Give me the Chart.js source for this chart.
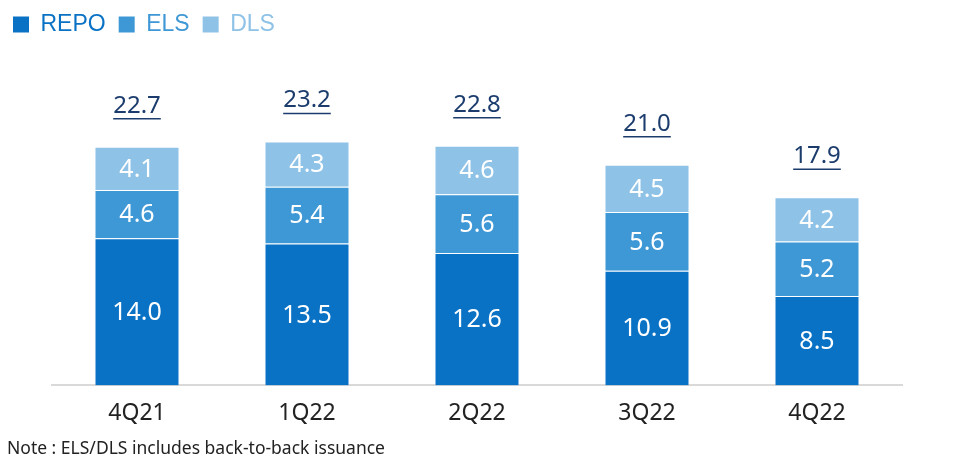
<!DOCTYPE html>
<html>
<head>
<meta charset="utf-8">
<style>
  html, body { margin: 0; padding: 0; background: #fff; }
  #wrap { width: 963px; height: 463px; position: relative; }
</style>
<script src="https://cdn.jsdelivr.net/npm/chart.js@4.4.1/dist/chart.umd.min.js"></script>
</head>
<body>
<div id="wrap"><canvas id="issuance"></canvas></div>
<script>
// Data
var quarters = ["4Q21", "1Q22", "2Q22", "3Q22", "4Q22"];
var repo = [14.0, 13.5, 12.6, 10.9, 8.5];
var els = [4.6, 5.4, 5.6, 5.6, 5.2];
var dls = [4.1, 4.3, 4.6, 4.5, 4.2];
var totals = [22.7, 23.2, 22.8, 21.0, 17.9];
var note = "Note : ELS/DLS includes back-to-back issuance";

var colors = { repo: "#0a72c5", els: "#3f98d6", dls: "#8ec2e7" };

// white numbers inside each segment
var segmentLabels = {
  id: "segmentLabels",
  afterDatasetsDraw: function (chart) {
    var ctx = chart.ctx;
    ctx.save();
    ctx.fillStyle = "#ffffff";
    ctx.font = "25px 'Noto Sans'";
    ctx.textAlign = "center";
    ctx.textBaseline = "middle";
    chart.data.datasets.forEach(function (ds, i) {
      var meta = chart.getDatasetMeta(i);
      meta.data.forEach(function (bar, j) {
        ctx.fillText(ds.data[j].toFixed(1), bar.x, (bar.y + bar.base) / 2 + 1);
      });
    });
    ctx.restore();
  }
};

// underlined totals above the stacks
var totalLabels = {
  id: "totalLabels",
  afterDatasetsDraw: function (chart) {
    var ctx = chart.ctx;
    var top = chart.getDatasetMeta(chart.data.datasets.length - 1);
    ctx.save();
    ctx.fillStyle = "#1b3c6c";
    ctx.strokeStyle = "#1b3c6c";
    ctx.lineWidth = 1.5;
    ctx.font = "24px 'Noto Sans'";
    ctx.textAlign = "center";
    ctx.textBaseline = "middle";
    top.data.forEach(function (bar, j) {
      var txt = totals[j].toFixed(1);
      var y = bar.y - 41;
      ctx.fillText(txt, bar.x, y);
      var w = ctx.measureText(txt).width;
      ctx.beginPath();
      ctx.moveTo(bar.x - w / 2, y + 13);
      ctx.lineTo(bar.x + w / 2, y + 13);
      ctx.stroke();
    });
    // footnote
    ctx.fillStyle = "#222";
    ctx.font = "17.5px 'Noto Sans'";
    ctx.textAlign = "left";
    ctx.fillText(note, 7, 449);
    ctx.restore();
  }
};

new Chart(document.getElementById("issuance"), {
  type: "bar",
  data: {
    labels: quarters,
    datasets: [
      { label: "REPO", data: repo, backgroundColor: colors.repo },
      { label: "ELS", data: els, backgroundColor: colors.els },
      { label: "DLS", data: dls, backgroundColor: colors.dls }
    ].map(function (d) {
      d.borderColor = "rgba(255,255,255,0.25)";
      d.borderWidth = 1;
      d.barPercentage = 0.5;
      d.categoryPercentage = 1.0;
      return d;
    })
  },
  options: {
    responsive: true,
    maintainAspectRatio: false,
    animation: false,
    layout: { padding: { right: 61, bottom: 30 } },
    plugins: {
      legend: {
        position: "top",
        align: "start",
        labels: {
          boxWidth: 16,
          boxHeight: 16,
          padding: 13,
          font: { family: "'Liberation Sans'", size: 23 },
          generateLabels: function (chart) {
            return chart.data.datasets.map(function (ds, i) {
              return {
                text: ds.label,
                fillStyle: ds.backgroundColor,
                strokeStyle: ds.backgroundColor,
                lineWidth: 0,
                fontColor: ds.backgroundColor,
                datasetIndex: i
              };
            });
          }
        }
      },
      tooltip: { enabled: false }
    },
    scales: {
      x: {
        stacked: true,
        grid: { display: false },
        border: { color: "#d9d9d9", width: 2 },
        ticks: { color: "#222", padding: 6, font: { family: "'Noto Sans'", size: 23 } }
      },
      y: {
        stacked: true,
        min: 0,
        max: 32.3,
        grid: { display: false },
        border: { display: false },
        ticks: { display: false },
        afterFit: function (s) { s.width = 52; }
      }
    }
  },
  plugins: [segmentLabels, totalLabels]
});
</script>
</body>
</html>
